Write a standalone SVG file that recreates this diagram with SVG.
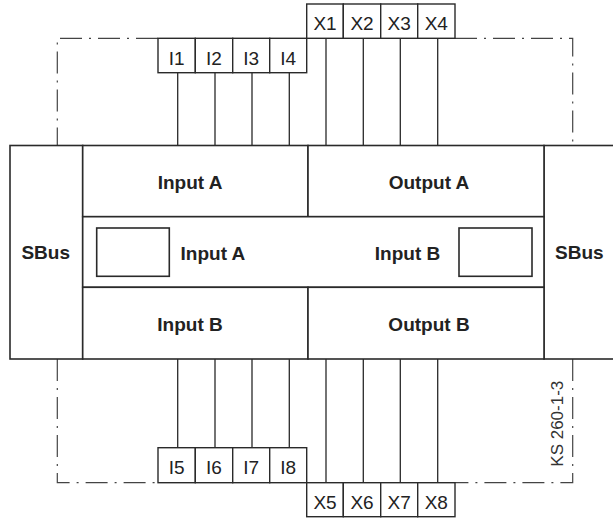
<svg xmlns="http://www.w3.org/2000/svg" width="613" height="521" viewBox="0 0 613 521">
<style>
.bx{fill:#fff;stroke:#2a2a2a;stroke-width:1.6}
.tb{fill:#fff;stroke:#2a2a2a;stroke-width:1.4}
.ln{stroke:#2a2a2a;stroke-width:1.3;fill:none}
.dd{stroke:#444;stroke-width:1.2;fill:none;stroke-dasharray:22 7 2 7}
.lb{font-family:"Liberation Sans",Arial,sans-serif;font-weight:bold;font-size:19px;fill:#222;text-anchor:middle}
.tl{font-family:"Liberation Sans",Arial,sans-serif;font-size:19px;fill:#222;text-anchor:middle}
.ks{font-family:"Liberation Sans",Arial,sans-serif;font-size:17px;fill:#333}
</style>
<rect width="613" height="521" fill="#fff"/>
<g id="frame">
<path class="dd" d="M158,38.3 H57.3 V145.5"/>
<path class="dd" d="M455,38.3 H572.7 V145.5"/>
<path class="dd" d="M57.3,359 V482.7 H158"/>
<path class="dd" d="M572.7,359 V482.7 H455"/>
</g>
<g id="connectors">
<path class="ln" d="M177.7,72.7V145.5M215,72.7V145.5M252,72.7V145.5M289.3,72.7V145.5"/>
<path class="ln" d="M326,38.3V145.5M363.3,38.3V145.5M400.3,38.3V145.5M437.7,38.3V145.5"/>
<path class="ln" d="M177.7,359V447.7M215,359V447.7M252,359V447.7M289.3,359V447.7"/>
<path class="ln" d="M326,359V482.7M363.3,359V482.7M400.3,359V482.7M437.7,359V482.7"/>
</g>
<g id="sbus-left"><rect class="bx" x="10" y="145.5" width="72.7" height="213.5"/><text class="lb" x="45.7" y="259.3">SBus</text></g>
<g id="sbus-right"><rect class="bx" x="544" y="145.5" width="73" height="213.5"/><text class="lb" x="579.3" y="259.3">SBus</text></g>
<g id="input-a-top"><rect class="bx" x="82.7" y="145.5" width="225.3" height="71.2"/><text class="lb" x="190" y="188.5">Input A</text></g>
<g id="output-a"><rect class="bx" x="308" y="145.5" width="236" height="71.2"/><text class="lb" x="429" y="188.5">Output A</text></g>
<g id="middle-row"><rect class="bx" x="82.7" y="216.7" width="461.3" height="70.6"/>
<rect class="bx" x="96.7" y="228" width="72.6" height="48.3"/>
<rect class="bx" x="459" y="228" width="73" height="48.3"/>
<text class="lb" x="212.9" y="259.5">Input A</text>
<text class="lb" x="407.5" y="259.5">Input B</text></g>
<g id="input-b-bottom"><rect class="bx" x="82.7" y="287.3" width="225.3" height="71.7"/><text class="lb" x="190" y="330.5">Input B</text></g>
<g id="output-b"><rect class="bx" x="308" y="287.3" width="236" height="71.7"/><text class="lb" x="429" y="330.5">Output B</text></g>
<g id="terminals-i-top">
<rect class="tb" x="158" y="38.3" width="37.3" height="34.4"/><text class="tl" x="176.7" y="65.3">I1</text>
<rect class="tb" x="195.3" y="38.3" width="37.4" height="34.4"/><text class="tl" x="214" y="65.3">I2</text>
<rect class="tb" x="232.7" y="38.3" width="37" height="34.4"/><text class="tl" x="251.2" y="65.3">I3</text>
<rect class="tb" x="269.7" y="38.3" width="37" height="34.4"/><text class="tl" x="288.2" y="65.3">I4</text>
</g>
<g id="terminals-x-top">
<rect class="tb" x="306.7" y="4" width="36.6" height="34.3"/><text class="tl" x="325" y="30">X1</text>
<rect class="tb" x="343.3" y="4" width="37.4" height="34.3"/><text class="tl" x="362" y="30">X2</text>
<rect class="tb" x="380.7" y="4" width="37" height="34.3"/><text class="tl" x="399.2" y="30">X3</text>
<rect class="tb" x="417.7" y="4" width="37.3" height="34.3"/><text class="tl" x="436.3" y="30">X4</text>
</g>
<g id="terminals-i-bottom">
<rect class="tb" x="158" y="447.7" width="37.3" height="35"/><text class="tl" x="176.7" y="473.5">I5</text>
<rect class="tb" x="195.3" y="447.7" width="37.4" height="35"/><text class="tl" x="214" y="473.5">I6</text>
<rect class="tb" x="232.7" y="447.7" width="37" height="35"/><text class="tl" x="251.2" y="473.5">I7</text>
<rect class="tb" x="269.7" y="447.7" width="37" height="35"/><text class="tl" x="288.2" y="473.5">I8</text>
</g>
<g id="terminals-x-bottom">
<rect class="tb" x="306.7" y="482.7" width="36.6" height="34"/><text class="tl" x="325" y="509.3">X5</text>
<rect class="tb" x="343.3" y="482.7" width="37.4" height="34"/><text class="tl" x="362" y="509.3">X6</text>
<rect class="tb" x="380.7" y="482.7" width="37" height="34"/><text class="tl" x="399.2" y="509.3">X7</text>
<rect class="tb" x="417.7" y="482.7" width="37.3" height="34"/><text class="tl" x="436.3" y="509.3">X8</text>
</g>
<text class="ks" transform="translate(563.3,466.7) rotate(-90)">KS 260-1-3</text>
</svg>
